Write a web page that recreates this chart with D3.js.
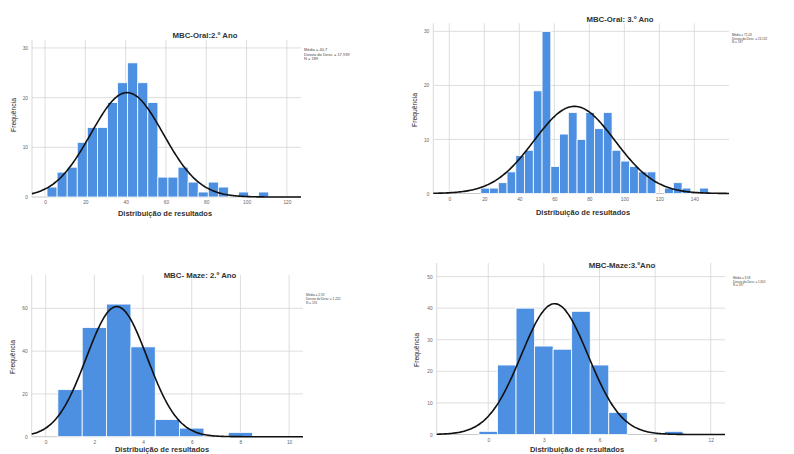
<!DOCTYPE html>
<html>
<head>
<meta charset="utf-8">
<script src="https://cdn.jsdelivr.net/npm/d3@7"></script>
<style>
  body { margin: 0; background: #fff; }
  text { font-family: "Liberation Sans", Arial, sans-serif; }
</style>
</head>
<body>
<div id="chart"></div>
<script>
// frequencias por classe
var oral2Counts = [2, 5, 6, 11, 14, 14, 19, 23, 27, 23, 19, 4, 4, 6, 3, 1, 3, 2, 0, 1, 0, 1];
var oral3Counts = [1, 1, 2, 4, 7, 8, 19, 30, 5, 11, 15, 10, 15, 12, 15, 8, 6, 5, 4, 4, 0, 1, 2, 1, 0, 1];
var maze2Counts = [22, 51, 62, 42, 8, 4, 0, 2];
var maze3Counts = [1, 22, 40, 28, 27, 39, 22, 7, 0, 0, 1];

var binStarts = [1, 18, 0.5, -0.5];
var binWidths = [5, 5, 1, 1];

var titles = ['MBC-Oral:2.º Ano', 'MBC-Oral: 3.º Ano', 'MBC- Maze: 2.º Ano', 'MBC-Maze:3.ºAno'];
var means = [40.7, 71.53, 2.92, 3.58];
var sds = [17.939, 23.13, 1.252, 1.801];
var ns = [189, 187, 191, 187];
var meanLabels = ['40,7', '71,53', '2,92', '3,58'];
var sdLabels = ['17,939', '23,132', '1,252', '1,801'];

var xTicks = [d3.range(0, 121, 20), d3.range(0, 141, 20), d3.range(0, 11, 2), d3.range(0, 13, 3)];
var yTicks = [[0, 10, 20, 30], [0, 10, 20, 30], [0, 20, 40, 60], [0, 10, 20, 30, 40, 50]];

var width = 794;
var height = 454;

var svg = d3.select('#chart')
    .append('svg')
    .attr('width', width)
    .attr('height', height);

// posicao de cada painel na imagem
var layout = [
    { x0: 32, x1: 301, y0: 40, y1: 197, xd: [-6.45, 127], yd: [0, 31.6],
      title: [205, 38], xlab: [165, 215.5], ylab: [13, 115], stats: [304, 51, 4.7], fs: 4 },
    { x0: 433.3, x1: 729, y0: 23.3, y1: 193.5, xd: [-9.14, 159.8], yd: [0, 31.5],
      title: [620, 21.5], xlab: [583, 214.5], ylab: [414, 110], stats: [732, 35.8, 3.7], fs: 3.1 },
    { x0: 31.7, x1: 303, y0: 275, y1: 436.7, xd: [-0.575, 10.57], yd: [0, 75.6],
      title: [200, 277.5], xlab: [162, 452.3], ylab: [12.7, 357], stats: [306, 296, 3.8], fs: 3.2 },
    { x0: 436.7, x1: 725, y0: 263, y1: 434.5, xd: [-2.78, 12.77], yd: [0, 54.3],
      title: [622, 267.5], xlab: [577, 452.3], ylab: [416, 350], stats: [733, 279.2, 3.6], fs: 3 }
];

var allCounts = [oral2Counts, oral3Counts, maze2Counts, maze3Counts];

allCounts.forEach(function(counts, p) {
    var L = layout[p];
    var g = svg.append('g');

    var x = d3.scaleLinear().domain(L.xd).range([L.x0, L.x1]);
    var y = d3.scaleLinear().domain(L.yd).range([L.y1, L.y0]);

    // grelha
    g.append('g')
        .selectAll('line')
        .data(xTicks[p])
        .enter()
        .append('line')
        .attr('x1', (d) => x(d)).attr('x2', (d) => x(d))
        .attr('y1', L.y0).attr('y2', L.y1)
        .attr('stroke', '#d6d6d6')
        .attr('stroke-width', 0.8);

    g.append('g')
        .selectAll('line')
        .data(yTicks[p].filter((d) => d > 0))
        .enter()
        .append('line')
        .attr('x1', L.x0).attr('x2', L.x1)
        .attr('y1', (d) => y(d)).attr('y2', (d) => y(d))
        .attr('stroke', '#d6d6d6')
        .attr('stroke-width', 0.8);

    g.append('line')
        .attr('x1', L.x0).attr('x2', L.x0)
        .attr('y1', L.y0).attr('y2', L.y1)
        .attr('stroke', '#cfcfcf')
        .attr('stroke-width', 0.8);

    g.append('line')
        .attr('x1', L.x0).attr('x2', L.x1)
        .attr('y1', L.y1).attr('y2', L.y1)
        .attr('stroke', '#bdbdbd')
        .attr('stroke-width', 0.8);

    // barras
    var bins = counts.map(function(c, i) {
        return { a: binStarts[p] + i * binWidths[p], b: binStarts[p] + (i + 1) * binWidths[p], c: c };
    }).filter((d) => d.c > 0);

    g.append('g')
        .selectAll('rect')
        .data(bins)
        .enter()
        .append('rect')
        .attr('x', (d) => x(d.a))
        .attr('y', (d) => y(d.c))
        .attr('width', (d) => x(d.b) - x(d.a))
        .attr('height', (d) => y(0) - y(d.c))
        .attr('fill', '#4d8fe0')
        .attr('stroke', '#ffffff')
        .attr('stroke-width', 0.8);

    // curva normal
    var k = ns[p] * binWidths[p] / (sds[p] * Math.sqrt(2 * Math.PI));
    var pts = d3.range(0, 201).map(function(i) {
        var v = L.xd[0] + (L.xd[1] - L.xd[0]) * i / 200;
        var z = (v - means[p]) / sds[p];
        return [v, k * Math.exp(-0.5 * z * z)];
    });
    var line = d3.line().x((d) => x(d[0])).y((d) => y(d[1])).curve(d3.curveBasis);
    g.append('path')
        .attr('d', line(pts))
        .attr('fill', 'none')
        .attr('stroke', '#111')
        .attr('stroke-width', 1.6);

    // eixos
    var xAxis = d3.axisBottom(x).tickValues(xTicks[p]).tickSize(0).tickPadding(4);
    var yAxis = d3.axisLeft(y).tickValues(yTicks[p]).tickSize(0).tickPadding(4);

    var gx = g.append('g')
        .attr('transform', 'translate(0,' + L.y1 + ')')
        .call(xAxis);
    var gy = g.append('g')
        .attr('transform', 'translate(' + L.x0 + ',0)')
        .call(yAxis);
    [gx, gy].forEach(function(a) {
        a.select('.domain').remove();
        a.selectAll('text')
            .attr('font-size', 4.8)
            .attr('fill', '#666')
            .style('font-family', '"Liberation Sans", Arial, sans-serif');
    });

    // titulos
    g.append('text')
        .attr('x', L.title[0]).attr('y', L.title[1])
        .attr('text-anchor', 'middle')
        .attr('font-size', 7.8)
        .attr('font-weight', 'bold')
        .attr('fill', '#333')
        .text(titles[p]);

    g.append('text')
        .attr('x', L.xlab[0]).attr('y', L.xlab[1])
        .attr('text-anchor', 'middle')
        .attr('font-size', 7.5)
        .attr('font-weight', 'bold')
        .attr('fill', '#333')
        .text('Distribuição de resultados');

    g.append('text')
        .attr('transform', 'translate(' + (L.ylab[0] + 2.5) + ',' + L.ylab[1] + ') rotate(-90)')
        .attr('text-anchor', 'middle')
        .attr('font-size', 6.8)
        .attr('fill', '#222')
        .text('Frequência');

    var statLines = ['Média = ' + meanLabels[p], 'Desvio do Desv. = ' + sdLabels[p], 'N = ' + ns[p]];
    g.append('g')
        .selectAll('text')
        .data(statLines)
        .enter()
        .append('text')
        .attr('x', L.stats[0])
        .attr('y', (d, i) => L.stats[1] + i * L.stats[2])
        .attr('font-size', L.fs)
        .attr('fill', '#444')
        .text((d) => d);
});
</script>
</body>
</html>
